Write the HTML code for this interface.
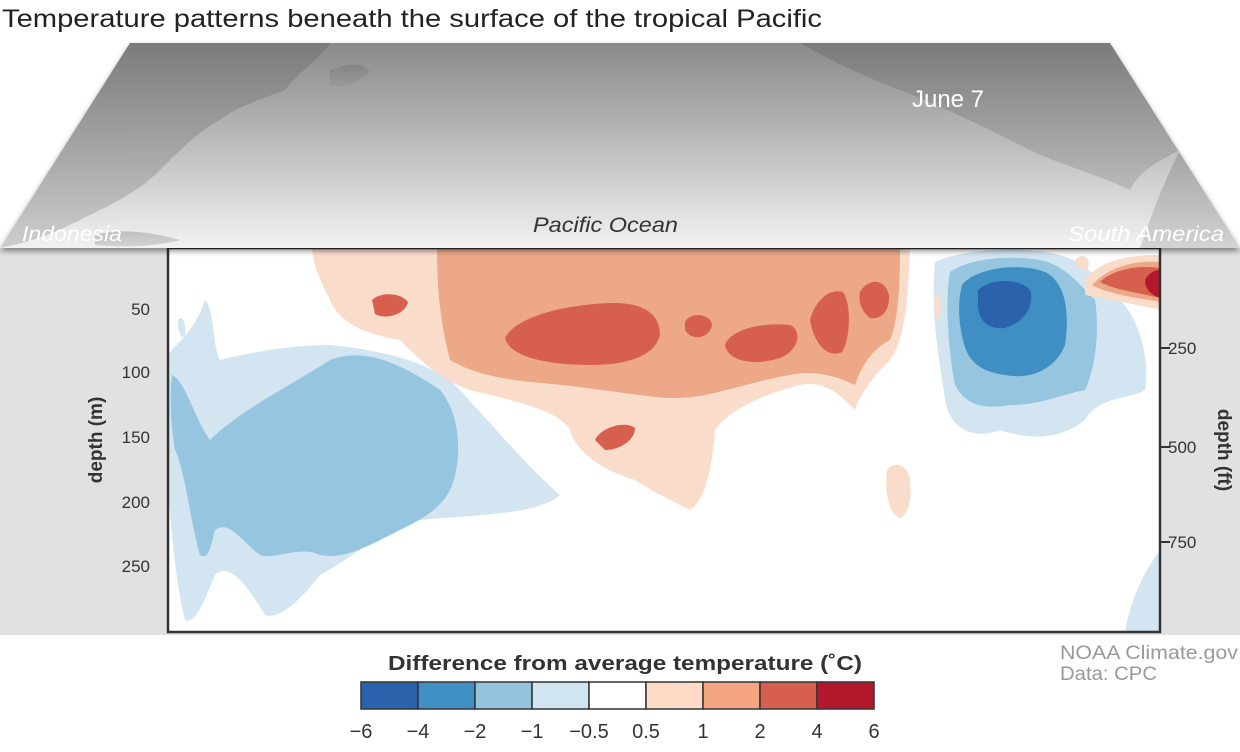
<!DOCTYPE html>
<html><head><meta charset="utf-8"><style>
body{margin:0;background:#fff;width:1240px;height:747px;overflow:hidden;font-family:"Liberation Sans",sans-serif}
</style></head><body>
<svg width="1240" height="747" viewBox="0 0 1240 747" xmlns="http://www.w3.org/2000/svg" font-family="Liberation Sans, sans-serif">
<defs>
<linearGradient id="sea" x1="0" y1="0" x2="0" y2="1">
<stop offset="0" stop-color="#8a8a8a"/><stop offset="0.5" stop-color="#bdbdbd"/><stop offset="1" stop-color="#f2f2f2"/>
</linearGradient>
<linearGradient id="land" x1="0" y1="0" x2="0" y2="1">
<stop offset="0" stop-color="#5f5f5f"/><stop offset="1" stop-color="#8a8a8a"/>
</linearGradient>
<filter id="sh" x="-5%" y="-10%" width="110%" height="130%"><feDropShadow dx="0" dy="3" stdDeviation="3" flood-color="#000" flood-opacity="0.45"/></filter>
<clipPath id="plot"><rect x="168" y="248" width="992" height="384"/></clipPath>
<clipPath id="map"><polygon points="130,43 1110,43 1240,248 0,248"/></clipPath>
</defs>
<text x="2" y="27" font-size="25" fill="#222" textLength="820" lengthAdjust="spacingAndGlyphs">Temperature patterns beneath the surface of the tropical Pacific</text>
<rect x="0" y="248" width="1240" height="387" fill="#e1e1e1"/>
<g clip-path="url(#plot)">
<rect x="168" y="248" width="992" height="384" fill="#fff"/>
<g fill="#d3e5f0">
<path d="M168,355 C180,340 195,330 205,300 C215,310 212,345 220,360 C260,350 300,345 330,345 C380,350 420,360 450,380 C480,410 520,460 560,495 C540,515 470,515 420,520 C380,530 350,560 320,575 C300,600 280,620 265,615 C250,590 230,560 215,575 C205,600 195,625 185,620 C175,580 170,520 168,480 Z"/>
<path d="M935,262 C960,250 1020,245 1060,255 C1085,262 1100,280 1120,300 C1140,320 1150,360 1145,390 C1130,400 1100,395 1085,420 C1060,440 1030,440 1000,430 C975,440 950,430 945,400 C940,360 930,320 935,262 Z"/>
<path d="M1125,632 C1130,600 1145,570 1160,550 L1160,632 Z"/>
<path d="M178,320 C182,315 186,320 185,335 C182,340 178,335 178,320 Z"/>
</g>
<g fill="#96c5df">
<path d="M172,375 C185,380 195,420 210,440 C240,410 300,380 330,360 C370,345 410,370 440,390 C465,420 460,470 450,490 C440,510 420,520 400,530 C370,545 345,560 320,555 C300,545 275,560 260,555 C240,540 230,520 215,530 C210,550 208,560 200,555 C190,520 185,470 175,450 C170,420 170,390 172,375 Z"/>
<path d="M950,272 C970,258 1010,255 1040,260 C1065,265 1080,285 1095,300 C1100,330 1095,370 1085,390 C1060,395 1040,405 1010,405 C985,410 965,405 955,385 C948,350 945,300 950,272 Z"/>
</g>
<g fill="#3f8fc4">
<path d="M962,285 C975,268 1020,262 1045,272 C1065,282 1070,310 1065,345 C1055,370 1030,380 1005,375 C985,372 968,365 963,340 C958,320 958,300 962,285 Z"/>
</g>
<g fill="#2a62ab">
<path d="M978,290 C990,278 1020,278 1030,290 C1035,305 1025,322 1005,328 C988,330 978,320 978,305 Z"/>
</g>
<g fill="#fadccb">
<path d="M312,248 L910,248 C908,300 905,340 890,360 C870,380 860,395 855,410 C840,395 825,380 800,385 C760,395 730,410 715,430 C712,470 705,500 690,510 C670,500 650,490 635,480 C600,470 575,450 570,430 C560,410 510,400 470,390 C440,380 420,360 400,340 C370,335 340,325 330,300 C320,280 312,262 312,248 Z"/>
<path d="M887,470 C895,460 908,465 910,480 C912,500 908,515 900,518 C890,515 884,495 887,470 Z"/>
<path d="M935,295 C940,290 942,300 940,320 C937,322 933,310 935,295 Z"/>
<path d="M1085,280 C1100,260 1130,255 1160,255 L1160,310 C1140,305 1110,300 1085,295 Z"/>
<path d="M1075,260 C1082,252 1092,258 1088,268 C1082,272 1076,268 1075,260 Z"/>
</g>
<g fill="#eca887">
<path d="M437,248 L900,248 C900,290 898,320 890,340 C870,350 860,370 855,385 C835,375 810,370 790,375 C760,380 730,390 705,395 C680,400 660,398 640,395 C600,390 570,385 530,382 C495,378 470,372 450,360 C440,320 437,290 437,248 Z"/>
<path d="M1092,285 C1110,265 1140,260 1160,262 L1160,302 C1140,298 1110,295 1092,285 Z"/>
</g>
<g fill="#d6604d">
<path d="M505,338 C515,318 560,305 610,303 C645,302 660,315 660,335 C655,355 630,365 590,365 C550,365 510,358 505,338 Z"/>
<path d="M685,322 C690,312 710,313 712,325 C710,338 692,342 685,330 Z"/>
<path d="M725,345 C730,330 760,322 790,325 C802,330 800,350 780,358 C755,366 728,362 725,345 Z"/>
<path d="M810,320 C815,300 830,288 843,292 C852,305 850,340 842,352 C830,358 815,348 810,320 Z"/>
<path d="M860,292 C868,278 885,278 889,295 C890,312 880,320 870,318 C862,312 858,302 860,292 Z"/>
<path d="M372,300 C380,292 400,292 408,302 C405,315 385,320 375,314 Z"/>
<path d="M595,440 C600,428 625,420 635,428 C635,440 620,450 605,450 Z"/>
<path d="M1100,282 C1115,268 1140,265 1160,268 L1160,298 C1135,292 1115,290 1100,282 Z"/>
</g>
<path d="M1145,280 C1150,270 1160,270 1160,270 L1160,298 C1152,295 1145,290 1145,280 Z" fill="#b2182b"/>
</g>
<rect x="168" y="248" width="992" height="384" fill="none" stroke="#333" stroke-width="2.5"/>
<g filter="url(#sh)">
<polygon points="130,43 1110,43 1240,248 0,248" fill="url(#sea)"/>
</g>
<g clip-path="url(#map)" fill="url(#land)">
<path d="M130,43 L330,43 C320,60 300,70 285,90 C260,100 240,105 220,120 C200,130 180,150 160,170 C140,190 120,200 90,215 C60,230 40,240 0,248 Z" opacity="0.35"/>
<path d="M330,70 C345,65 360,60 370,72 C358,82 345,90 330,85 Z" opacity="0.3"/>
<path d="M800,43 L1110,43 L1180,150 C1160,160 1140,170 1130,190 C1100,175 1060,165 1030,150 C990,130 950,110 900,90 C860,75 830,60 800,43 Z" opacity="0.35"/>
<path d="M1180,150 L1240,248 L1140,248 C1150,220 1160,190 1180,150 Z" opacity="0.3"/>
<path d="M95,235 C120,228 150,232 180,240 C160,246 120,248 95,245 Z" opacity="0.3"/>
</g>
<text x="22" y="241" font-size="21" font-style="italic" fill="#fff" textLength="100" lengthAdjust="spacingAndGlyphs">Indonesia</text>
<text x="533" y="232" font-size="21" font-style="italic" fill="#333" textLength="145" lengthAdjust="spacingAndGlyphs">Pacific Ocean</text>
<text x="1068" y="241" font-size="21" font-style="italic" fill="#fff" textLength="156" lengthAdjust="spacingAndGlyphs">South America</text>
<text x="948" y="107" font-size="24" fill="#fff" text-anchor="middle">June 7</text>
<g font-size="17" fill="#333" text-anchor="end">
<text x="150" y="315">50</text><text x="150" y="378">100</text><text x="150" y="443">150</text><text x="150" y="508">200</text><text x="150" y="572">250</text>
</g>
<g stroke="#333" stroke-width="2">
<line x1="1160" y1="348" x2="1170" y2="348"/><line x1="1160" y1="447" x2="1170" y2="447"/><line x1="1160" y1="542" x2="1170" y2="542"/>
</g>
<g font-size="17" fill="#333">
<text x="1168" y="354">250</text><text x="1168" y="453">500</text><text x="1168" y="548">750</text>
</g>
<text transform="translate(102,440) rotate(-90)" font-size="19" font-weight="bold" fill="#333" text-anchor="middle">depth (m)</text>
<text transform="translate(1218,450) rotate(90)" font-size="19" font-weight="bold" fill="#333" text-anchor="middle">depth (ft)</text>
<text x="388" y="670" font-size="20" font-weight="bold" fill="#333" textLength="474" lengthAdjust="spacingAndGlyphs">Difference from average temperature (˚C)</text>
<g stroke="#333" stroke-width="1.5">
<rect x="361" y="682" width="57" height="27" fill="#2a62ab"/>
<rect x="418" y="682" width="57" height="27" fill="#3f8fc4"/>
<rect x="475" y="682" width="57" height="27" fill="#93c5df"/>
<rect x="532" y="682" width="57" height="27" fill="#d1e5f0"/>
<rect x="589" y="682" width="57" height="27" fill="#ffffff"/>
<rect x="646" y="682" width="57" height="27" fill="#fddbc7"/>
<rect x="703" y="682" width="57" height="27" fill="#f4a582"/>
<rect x="760" y="682" width="57" height="27" fill="#d6604d"/>
<rect x="817" y="682" width="57" height="27" fill="#b2182b"/>
</g>
<g font-size="20" fill="#333" text-anchor="middle">
<text x="361" y="738">−6</text><text x="418" y="738">−4</text><text x="475" y="738">−2</text><text x="532" y="738">−1</text><text x="589" y="738">−0.5</text><text x="646" y="738">0.5</text><text x="703" y="738">1</text><text x="760" y="738">2</text><text x="817" y="738">4</text><text x="874" y="738">6</text>
</g>
<text x="1060" y="659" font-size="19" fill="#999" textLength="178" lengthAdjust="spacingAndGlyphs">NOAA Climate.gov</text>
<text x="1060" y="680" font-size="19" fill="#999" textLength="97" lengthAdjust="spacingAndGlyphs">Data: CPC</text>
</svg>
</body></html>
